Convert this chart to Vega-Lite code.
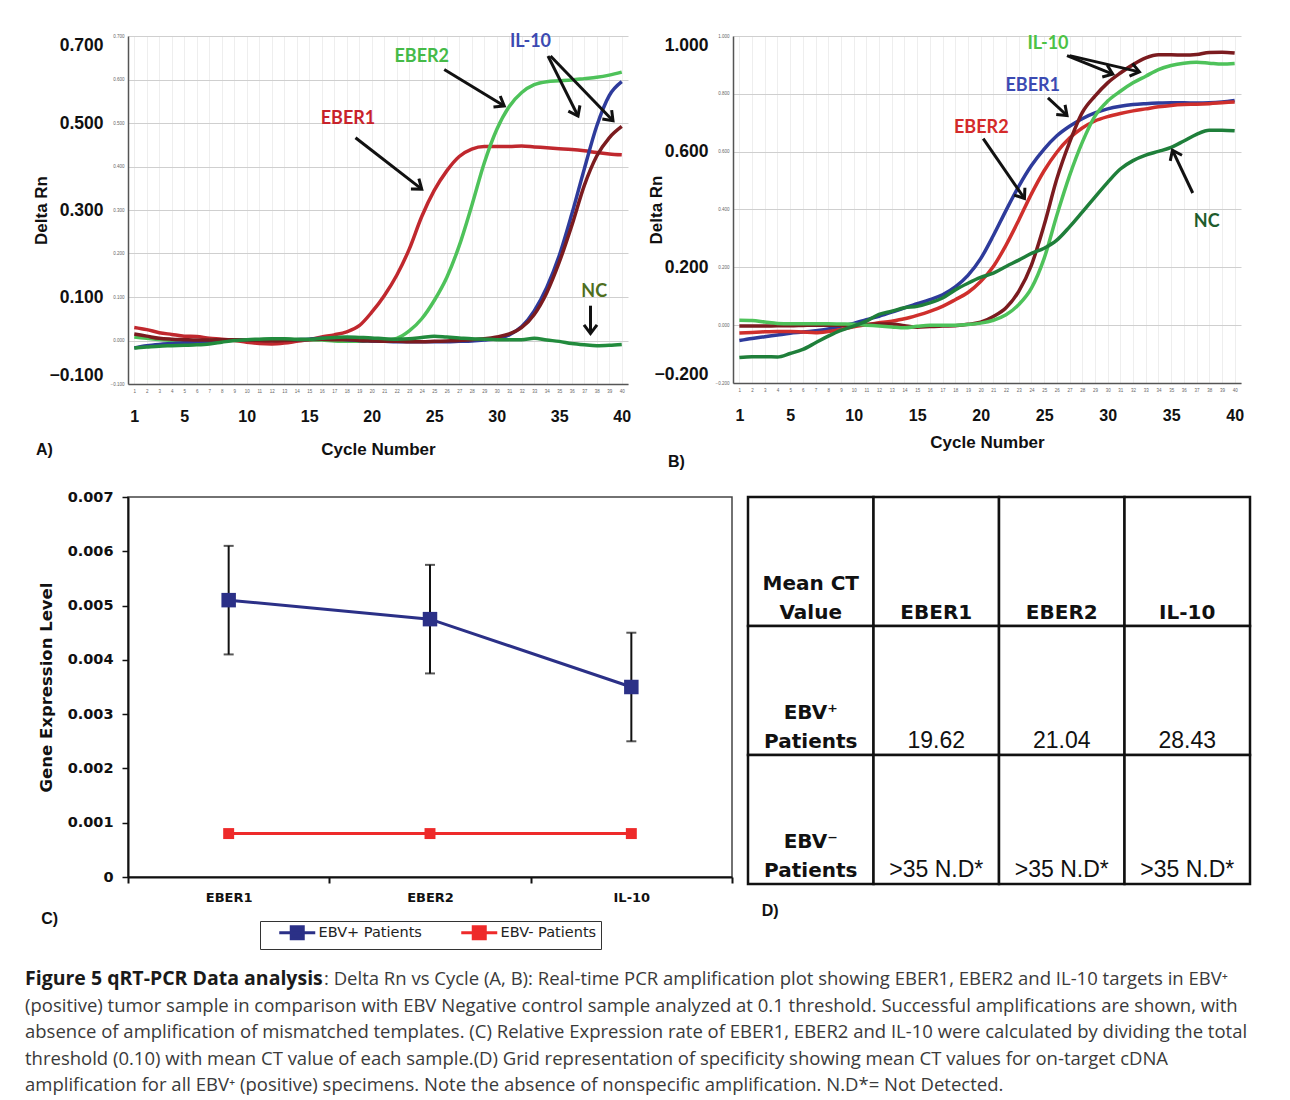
{
  "$schema": "https://vega.github.io/schema/vega-lite/v6.json",
  "background": "white",
  "padding": {"left": 25, "top": 33, "right": 5, "bottom": 5},
  "spacing": 18,
  "datasets": {
    "ampA": [
      {"c":1,"s":"EBER1","v":0.030},{"c":2,"s":"EBER1","v":0.025},{"c":3,"s":"EBER1","v":0.018},{"c":4,"s":"EBER1","v":0.014},{"c":5,"s":"EBER1","v":0.010},{"c":6,"s":"EBER1","v":0.009},{"c":7,"s":"EBER1","v":0.005},{"c":8,"s":"EBER1","v":0.003},{"c":9,"s":"EBER1","v":0.000},{"c":10,"s":"EBER1","v":-0.004},
      {"c":11,"s":"EBER1","v":-0.007},{"c":12,"s":"EBER1","v":-0.008},{"c":13,"s":"EBER1","v":-0.006},{"c":14,"s":"EBER1","v":-0.002},{"c":15,"s":"EBER1","v":0.002},{"c":16,"s":"EBER1","v":0.008},{"c":17,"s":"EBER1","v":0.013},{"c":18,"s":"EBER1","v":0.020},{"c":19,"s":"EBER1","v":0.034},{"c":20,"s":"EBER1","v":0.065},
      {"c":21,"s":"EBER1","v":0.103},{"c":22,"s":"EBER1","v":0.150},{"c":23,"s":"EBER1","v":0.210},{"c":24,"s":"EBER1","v":0.285},{"c":25,"s":"EBER1","v":0.345},{"c":26,"s":"EBER1","v":0.390},{"c":27,"s":"EBER1","v":0.423},{"c":28,"s":"EBER1","v":0.440},{"c":29,"s":"EBER1","v":0.446},{"c":30,"s":"EBER1","v":0.446},
      {"c":31,"s":"EBER1","v":0.446},{"c":32,"s":"EBER1","v":0.447},{"c":33,"s":"EBER1","v":0.445},{"c":34,"s":"EBER1","v":0.443},{"c":35,"s":"EBER1","v":0.441},{"c":36,"s":"EBER1","v":0.439},{"c":37,"s":"EBER1","v":0.436},{"c":38,"s":"EBER1","v":0.432},{"c":39,"s":"EBER1","v":0.429},{"c":40,"s":"EBER1","v":0.427},
      {"c":1,"s":"EBER2","v":0.008},{"c":2,"s":"EBER2","v":0.005},{"c":3,"s":"EBER2","v":0.002},{"c":4,"s":"EBER2","v":0.000},{"c":5,"s":"EBER2","v":-0.001},{"c":6,"s":"EBER2","v":-0.001},{"c":7,"s":"EBER2","v":0.000},{"c":8,"s":"EBER2","v":0.001},{"c":9,"s":"EBER2","v":0.002},{"c":10,"s":"EBER2","v":0.002},
      {"c":11,"s":"EBER2","v":0.002},{"c":12,"s":"EBER2","v":0.003},{"c":13,"s":"EBER2","v":0.003},{"c":14,"s":"EBER2","v":0.002},{"c":15,"s":"EBER2","v":0.002},{"c":16,"s":"EBER2","v":0.001},{"c":17,"s":"EBER2","v":-0.001},{"c":18,"s":"EBER2","v":-0.002},{"c":19,"s":"EBER2","v":-0.002},{"c":20,"s":"EBER2","v":-0.001},
      {"c":21,"s":"EBER2","v":0.000},{"c":22,"s":"EBER2","v":0.005},{"c":23,"s":"EBER2","v":0.022},{"c":24,"s":"EBER2","v":0.050},{"c":25,"s":"EBER2","v":0.092},{"c":26,"s":"EBER2","v":0.145},{"c":27,"s":"EBER2","v":0.218},{"c":28,"s":"EBER2","v":0.310},{"c":29,"s":"EBER2","v":0.408},{"c":30,"s":"EBER2","v":0.485},
      {"c":31,"s":"EBER2","v":0.538},{"c":32,"s":"EBER2","v":0.570},{"c":33,"s":"EBER2","v":0.588},{"c":34,"s":"EBER2","v":0.595},{"c":35,"s":"EBER2","v":0.597},{"c":36,"s":"EBER2","v":0.599},{"c":37,"s":"EBER2","v":0.602},{"c":38,"s":"EBER2","v":0.605},{"c":39,"s":"EBER2","v":0.610},{"c":40,"s":"EBER2","v":0.617},
      {"c":1,"s":"IL-10 a","v":-0.017},{"c":2,"s":"IL-10 a","v":-0.012},{"c":3,"s":"IL-10 a","v":-0.009},{"c":4,"s":"IL-10 a","v":-0.007},{"c":5,"s":"IL-10 a","v":-0.005},{"c":6,"s":"IL-10 a","v":-0.004},{"c":7,"s":"IL-10 a","v":-0.002},{"c":8,"s":"IL-10 a","v":0.000},{"c":9,"s":"IL-10 a","v":0.001},{"c":10,"s":"IL-10 a","v":0.001},
      {"c":11,"s":"IL-10 a","v":0.001},{"c":12,"s":"IL-10 a","v":0.001},{"c":13,"s":"IL-10 a","v":0.001},{"c":14,"s":"IL-10 a","v":0.002},{"c":15,"s":"IL-10 a","v":0.003},{"c":16,"s":"IL-10 a","v":0.005},{"c":17,"s":"IL-10 a","v":0.004},{"c":18,"s":"IL-10 a","v":0.002},{"c":19,"s":"IL-10 a","v":0.000},{"c":20,"s":"IL-10 a","v":-0.001},
      {"c":21,"s":"IL-10 a","v":-0.002},{"c":22,"s":"IL-10 a","v":-0.003},{"c":23,"s":"IL-10 a","v":-0.003},{"c":24,"s":"IL-10 a","v":-0.003},{"c":25,"s":"IL-10 a","v":-0.003},{"c":26,"s":"IL-10 a","v":-0.003},{"c":27,"s":"IL-10 a","v":-0.002},{"c":28,"s":"IL-10 a","v":-0.001},{"c":29,"s":"IL-10 a","v":0.001},{"c":30,"s":"IL-10 a","v":0.004},
      {"c":31,"s":"IL-10 a","v":0.013},{"c":32,"s":"IL-10 a","v":0.032},{"c":33,"s":"IL-10 a","v":0.068},{"c":34,"s":"IL-10 a","v":0.122},{"c":35,"s":"IL-10 a","v":0.195},{"c":36,"s":"IL-10 a","v":0.290},{"c":37,"s":"IL-10 a","v":0.394},{"c":38,"s":"IL-10 a","v":0.493},{"c":39,"s":"IL-10 a","v":0.563},{"c":40,"s":"IL-10 a","v":0.595},
      {"c":1,"s":"IL-10 b","v":0.015},{"c":2,"s":"IL-10 b","v":0.010},{"c":3,"s":"IL-10 b","v":0.005},{"c":4,"s":"IL-10 b","v":0.003},{"c":5,"s":"IL-10 b","v":0.002},{"c":6,"s":"IL-10 b","v":0.001},{"c":7,"s":"IL-10 b","v":0.001},{"c":8,"s":"IL-10 b","v":0.002},{"c":9,"s":"IL-10 b","v":0.002},{"c":10,"s":"IL-10 b","v":0.001},
      {"c":11,"s":"IL-10 b","v":0.000},{"c":12,"s":"IL-10 b","v":-0.001},{"c":13,"s":"IL-10 b","v":0.000},{"c":14,"s":"IL-10 b","v":0.001},{"c":15,"s":"IL-10 b","v":0.002},{"c":16,"s":"IL-10 b","v":0.003},{"c":17,"s":"IL-10 b","v":0.002},{"c":18,"s":"IL-10 b","v":0.002},{"c":19,"s":"IL-10 b","v":0.000},{"c":20,"s":"IL-10 b","v":-0.001},
      {"c":21,"s":"IL-10 b","v":-0.002},{"c":22,"s":"IL-10 b","v":-0.002},{"c":23,"s":"IL-10 b","v":-0.003},{"c":24,"s":"IL-10 b","v":-0.003},{"c":25,"s":"IL-10 b","v":-0.002},{"c":26,"s":"IL-10 b","v":-0.001},{"c":27,"s":"IL-10 b","v":0.000},{"c":28,"s":"IL-10 b","v":0.002},{"c":29,"s":"IL-10 b","v":0.004},{"c":30,"s":"IL-10 b","v":0.008},
      {"c":31,"s":"IL-10 b","v":0.015},{"c":32,"s":"IL-10 b","v":0.030},{"c":33,"s":"IL-10 b","v":0.060},{"c":34,"s":"IL-10 b","v":0.110},{"c":35,"s":"IL-10 b","v":0.180},{"c":36,"s":"IL-10 b","v":0.264},{"c":37,"s":"IL-10 b","v":0.356},{"c":38,"s":"IL-10 b","v":0.424},{"c":39,"s":"IL-10 b","v":0.466},{"c":40,"s":"IL-10 b","v":0.492},
      {"c":1,"s":"NC","v":-0.017},{"c":2,"s":"NC","v":-0.015},{"c":3,"s":"NC","v":-0.013},{"c":4,"s":"NC","v":-0.012},{"c":5,"s":"NC","v":-0.011},{"c":6,"s":"NC","v":-0.010},{"c":7,"s":"NC","v":-0.008},{"c":8,"s":"NC","v":-0.004},{"c":9,"s":"NC","v":0.000},{"c":10,"s":"NC","v":0.002},
      {"c":11,"s":"NC","v":0.003},{"c":12,"s":"NC","v":0.004},{"c":13,"s":"NC","v":0.004},{"c":14,"s":"NC","v":0.003},{"c":15,"s":"NC","v":0.003},{"c":16,"s":"NC","v":0.005},{"c":17,"s":"NC","v":0.007},{"c":18,"s":"NC","v":0.008},{"c":19,"s":"NC","v":0.007},{"c":20,"s":"NC","v":0.006},
      {"c":21,"s":"NC","v":0.004},{"c":22,"s":"NC","v":0.003},{"c":23,"s":"NC","v":0.004},{"c":24,"s":"NC","v":0.007},{"c":25,"s":"NC","v":0.010},{"c":26,"s":"NC","v":0.008},{"c":27,"s":"NC","v":0.006},{"c":28,"s":"NC","v":0.004},{"c":29,"s":"NC","v":0.003},{"c":30,"s":"NC","v":0.002},
      {"c":31,"s":"NC","v":0.002},{"c":32,"s":"NC","v":0.002},{"c":33,"s":"NC","v":0.005},{"c":34,"s":"NC","v":0.001},{"c":35,"s":"NC","v":-0.002},{"c":36,"s":"NC","v":-0.007},{"c":37,"s":"NC","v":-0.010},{"c":38,"s":"NC","v":-0.012},{"c":39,"s":"NC","v":-0.011},{"c":40,"s":"NC","v":-0.009}
    ],
    "ampB": [
      {"c":1,"s":"EBER1","v":-0.053},{"c":2,"s":"EBER1","v":-0.046},{"c":3,"s":"EBER1","v":-0.040},{"c":4,"s":"EBER1","v":-0.034},{"c":5,"s":"EBER1","v":-0.028},{"c":6,"s":"EBER1","v":-0.024},{"c":7,"s":"EBER1","v":-0.019},{"c":8,"s":"EBER1","v":-0.013},{"c":9,"s":"EBER1","v":-0.004},{"c":10,"s":"EBER1","v":0.006},
      {"c":11,"s":"EBER1","v":0.019},{"c":12,"s":"EBER1","v":0.031},{"c":13,"s":"EBER1","v":0.045},{"c":14,"s":"EBER1","v":0.060},{"c":15,"s":"EBER1","v":0.074},{"c":16,"s":"EBER1","v":0.088},{"c":17,"s":"EBER1","v":0.105},{"c":18,"s":"EBER1","v":0.132},{"c":19,"s":"EBER1","v":0.172},{"c":20,"s":"EBER1","v":0.230},
      {"c":21,"s":"EBER1","v":0.310},{"c":22,"s":"EBER1","v":0.397},{"c":23,"s":"EBER1","v":0.480},{"c":24,"s":"EBER1","v":0.552},{"c":25,"s":"EBER1","v":0.609},{"c":26,"s":"EBER1","v":0.655},{"c":27,"s":"EBER1","v":0.688},{"c":28,"s":"EBER1","v":0.714},{"c":29,"s":"EBER1","v":0.734},{"c":30,"s":"EBER1","v":0.748},
      {"c":31,"s":"EBER1","v":0.757},{"c":32,"s":"EBER1","v":0.763},{"c":33,"s":"EBER1","v":0.766},{"c":34,"s":"EBER1","v":0.768},{"c":35,"s":"EBER1","v":0.769},{"c":36,"s":"EBER1","v":0.769},{"c":37,"s":"EBER1","v":0.768},{"c":38,"s":"EBER1","v":0.769},{"c":39,"s":"EBER1","v":0.772},{"c":40,"s":"EBER1","v":0.777},
      {"c":1,"s":"EBER2","v":-0.027},{"c":2,"s":"EBER2","v":-0.025},{"c":3,"s":"EBER2","v":-0.023},{"c":4,"s":"EBER2","v":-0.022},{"c":5,"s":"EBER2","v":-0.022},{"c":6,"s":"EBER2","v":-0.024},{"c":7,"s":"EBER2","v":-0.026},{"c":8,"s":"EBER2","v":-0.022},{"c":9,"s":"EBER2","v":-0.015},{"c":10,"s":"EBER2","v":-0.006},
      {"c":11,"s":"EBER2","v":0.002},{"c":12,"s":"EBER2","v":0.008},{"c":13,"s":"EBER2","v":0.014},{"c":14,"s":"EBER2","v":0.022},{"c":15,"s":"EBER2","v":0.034},{"c":16,"s":"EBER2","v":0.048},{"c":17,"s":"EBER2","v":0.065},{"c":18,"s":"EBER2","v":0.088},{"c":19,"s":"EBER2","v":0.113},{"c":20,"s":"EBER2","v":0.151},
      {"c":21,"s":"EBER2","v":0.203},{"c":22,"s":"EBER2","v":0.277},{"c":23,"s":"EBER2","v":0.363},{"c":24,"s":"EBER2","v":0.454},{"c":25,"s":"EBER2","v":0.534},{"c":26,"s":"EBER2","v":0.598},{"c":27,"s":"EBER2","v":0.647},{"c":28,"s":"EBER2","v":0.682},{"c":29,"s":"EBER2","v":0.706},{"c":30,"s":"EBER2","v":0.721},
      {"c":31,"s":"EBER2","v":0.732},{"c":32,"s":"EBER2","v":0.741},{"c":33,"s":"EBER2","v":0.748},{"c":34,"s":"EBER2","v":0.755},{"c":35,"s":"EBER2","v":0.760},{"c":36,"s":"EBER2","v":0.763},{"c":37,"s":"EBER2","v":0.764},{"c":38,"s":"EBER2","v":0.766},{"c":39,"s":"EBER2","v":0.769},{"c":40,"s":"EBER2","v":0.772},
      {"c":1,"s":"IL-10 a","v":-0.003},{"c":2,"s":"IL-10 a","v":-0.003},{"c":3,"s":"IL-10 a","v":-0.003},{"c":4,"s":"IL-10 a","v":-0.002},{"c":5,"s":"IL-10 a","v":-0.002},{"c":6,"s":"IL-10 a","v":-0.001},{"c":7,"s":"IL-10 a","v":0.000},{"c":8,"s":"IL-10 a","v":0.000},{"c":9,"s":"IL-10 a","v":0.000},{"c":10,"s":"IL-10 a","v":0.001},
      {"c":11,"s":"IL-10 a","v":0.002},{"c":12,"s":"IL-10 a","v":0.004},{"c":13,"s":"IL-10 a","v":0.004},{"c":14,"s":"IL-10 a","v":-0.002},{"c":15,"s":"IL-10 a","v":-0.007},{"c":16,"s":"IL-10 a","v":-0.005},{"c":17,"s":"IL-10 a","v":-0.003},{"c":18,"s":"IL-10 a","v":-0.002},{"c":19,"s":"IL-10 a","v":0.003},{"c":20,"s":"IL-10 a","v":0.010},
      {"c":21,"s":"IL-10 a","v":0.030},{"c":22,"s":"IL-10 a","v":0.060},{"c":23,"s":"IL-10 a","v":0.117},{"c":24,"s":"IL-10 a","v":0.208},{"c":25,"s":"IL-10 a","v":0.346},{"c":26,"s":"IL-10 a","v":0.506},{"c":27,"s":"IL-10 a","v":0.632},{"c":28,"s":"IL-10 a","v":0.735},{"c":29,"s":"IL-10 a","v":0.792},{"c":30,"s":"IL-10 a","v":0.838},
      {"c":31,"s":"IL-10 a","v":0.872},{"c":32,"s":"IL-10 a","v":0.901},{"c":33,"s":"IL-10 a","v":0.924},{"c":34,"s":"IL-10 a","v":0.935},{"c":35,"s":"IL-10 a","v":0.935},{"c":36,"s":"IL-10 a","v":0.934},{"c":37,"s":"IL-10 a","v":0.936},{"c":38,"s":"IL-10 a","v":0.943},{"c":39,"s":"IL-10 a","v":0.944},{"c":40,"s":"IL-10 a","v":0.941},
      {"c":1,"s":"IL-10 b","v":0.017},{"c":2,"s":"IL-10 b","v":0.016},{"c":3,"s":"IL-10 b","v":0.011},{"c":4,"s":"IL-10 b","v":0.006},{"c":5,"s":"IL-10 b","v":0.005},{"c":6,"s":"IL-10 b","v":0.005},{"c":7,"s":"IL-10 b","v":0.005},{"c":8,"s":"IL-10 b","v":0.005},{"c":9,"s":"IL-10 b","v":0.004},{"c":10,"s":"IL-10 b","v":0.003},
      {"c":11,"s":"IL-10 b","v":0.000},{"c":12,"s":"IL-10 b","v":-0.003},{"c":13,"s":"IL-10 b","v":-0.006},{"c":14,"s":"IL-10 b","v":-0.009},{"c":15,"s":"IL-10 b","v":-0.004},{"c":16,"s":"IL-10 b","v":0.000},{"c":17,"s":"IL-10 b","v":0.000},{"c":18,"s":"IL-10 b","v":0.000},{"c":19,"s":"IL-10 b","v":0.002},{"c":20,"s":"IL-10 b","v":0.007},
      {"c":21,"s":"IL-10 b","v":0.017},{"c":22,"s":"IL-10 b","v":0.036},{"c":23,"s":"IL-10 b","v":0.071},{"c":24,"s":"IL-10 b","v":0.128},{"c":25,"s":"IL-10 b","v":0.231},{"c":26,"s":"IL-10 b","v":0.380},{"c":27,"s":"IL-10 b","v":0.517},{"c":28,"s":"IL-10 b","v":0.632},{"c":29,"s":"IL-10 b","v":0.723},{"c":30,"s":"IL-10 b","v":0.775},
      {"c":31,"s":"IL-10 b","v":0.809},{"c":32,"s":"IL-10 b","v":0.838},{"c":33,"s":"IL-10 b","v":0.861},{"c":34,"s":"IL-10 b","v":0.884},{"c":35,"s":"IL-10 b","v":0.898},{"c":36,"s":"IL-10 b","v":0.906},{"c":37,"s":"IL-10 b","v":0.909},{"c":38,"s":"IL-10 b","v":0.906},{"c":39,"s":"IL-10 b","v":0.903},{"c":40,"s":"IL-10 b","v":0.905},
      {"c":1,"s":"NC","v":-0.112},{"c":2,"s":"NC","v":-0.109},{"c":3,"s":"NC","v":-0.109},{"c":4,"s":"NC","v":-0.110},{"c":5,"s":"NC","v":-0.098},{"c":6,"s":"NC","v":-0.084},{"c":7,"s":"NC","v":-0.061},{"c":8,"s":"NC","v":-0.038},{"c":9,"s":"NC","v":-0.018},{"c":10,"s":"NC","v":-0.003},
      {"c":11,"s":"NC","v":0.014},{"c":12,"s":"NC","v":0.037},{"c":13,"s":"NC","v":0.048},{"c":14,"s":"NC","v":0.060},{"c":15,"s":"NC","v":0.065},{"c":16,"s":"NC","v":0.077},{"c":17,"s":"NC","v":0.094},{"c":18,"s":"NC","v":0.122},{"c":19,"s":"NC","v":0.145},{"c":20,"s":"NC","v":0.165},
      {"c":21,"s":"NC","v":0.180},{"c":22,"s":"NC","v":0.203},{"c":23,"s":"NC","v":0.225},{"c":24,"s":"NC","v":0.248},{"c":25,"s":"NC","v":0.266},{"c":26,"s":"NC","v":0.294},{"c":27,"s":"NC","v":0.340},{"c":28,"s":"NC","v":0.391},{"c":29,"s":"NC","v":0.443},{"c":30,"s":"NC","v":0.494},
      {"c":31,"s":"NC","v":0.540},{"c":32,"s":"NC","v":0.569},{"c":33,"s":"NC","v":0.588},{"c":34,"s":"NC","v":0.601},{"c":35,"s":"NC","v":0.615},{"c":36,"s":"NC","v":0.637},{"c":37,"s":"NC","v":0.660},{"c":38,"s":"NC","v":0.674},{"c":39,"s":"NC","v":0.674},{"c":40,"s":"NC","v":0.672}
    ],
    "labelA": [
      {"label":"EBER2","c":24.0,"v":0.652},
      {"label":"IL-10","c":32.7,"v":0.686},
      {"label":"EBER1","c":18.1,"v":0.510},
      {"label":"NC","c":37.8,"v":0.112}
    ],
    "arrowA": [
      {"label":"EBER2","x1":25.8,"y1":0.623,"x2":30.6,"y2":0.539},
      {"label":"IL-10","x1":34.1,"y1":0.654,"x2":36.5,"y2":0.516},
      {"label":"IL-10","x1":34.3,"y1":0.654,"x2":39.3,"y2":0.505},
      {"label":"EBER1","x1":18.7,"y1":0.466,"x2":24.0,"y2":0.348},
      {"label":"NC","x1":37.5,"y1":0.080,"x2":37.5,"y2":0.016}
    ],
    "labelB": [
      {"label":"IL-10","c":25.3,"v":0.972},
      {"label":"EBER1","c":24.1,"v":0.827},
      {"label":"EBER2","c":20.05,"v":0.682},
      {"label":"NC","c":37.8,"v":0.356}
    ],
    "arrowB": [
      {"label":"IL-10","x1":26.8,"y1":0.932,"x2":30.4,"y2":0.868},
      {"label":"IL-10","x1":27.0,"y1":0.932,"x2":32.5,"y2":0.876},
      {"label":"EBER1","x1":25.3,"y1":0.786,"x2":26.8,"y2":0.725},
      {"label":"EBER2","x1":20.2,"y1":0.645,"x2":23.45,"y2":0.438},
      {"label":"NC","x1":36.7,"y1":0.457,"x2":35.1,"y2":0.605}
    ],
    "expr": [
      {"gene":"EBER1","group":"EBV+ Patients","level":0.0051,"lo":0.0041,"hi":0.0061},
      {"gene":"EBER2","group":"EBV+ Patients","level":0.00475,"lo":0.00375,"hi":0.00575},
      {"gene":"IL-10","group":"EBV+ Patients","level":0.0035,"lo":0.0025,"hi":0.0045},
      {"gene":"EBER1","group":"EBV- Patients","level":0.0008},
      {"gene":"EBER2","group":"EBV- Patients","level":0.0008},
      {"gene":"IL-10","group":"EBV- Patients","level":0.0008}
    ],
    "ct": [
      {"target":"label","group":"header","text":"Mean CT\nValue","kind":"head"},
      {"target":"EBER1","group":"header","text":"EBER1","kind":"head"},
      {"target":"EBER2","group":"header","text":"EBER2","kind":"head"},
      {"target":"IL-10","group":"header","text":"IL-10","kind":"head"},
      {"target":"label","group":"EBV+","text":"EBV⁺\nPatients","kind":"head"},
      {"target":"EBER1","group":"EBV+","text":"19.62","kind":"value"},
      {"target":"EBER2","group":"EBV+","text":"21.04","kind":"value"},
      {"target":"IL-10","group":"EBV+","text":"28.43","kind":"value"},
      {"target":"label","group":"EBV-","text":"EBV⁻\nPatients","kind":"head"},
      {"target":"EBER1","group":"EBV-","text":">35 N.D*","kind":"value"},
      {"target":"EBER2","group":"EBV-","text":">35 N.D*","kind":"value"},
      {"target":"IL-10","group":"EBV-","text":">35 N.D*","kind":"value"}
    ],
    "caption": [
      {"line":1,"part":"bold","text":"Figure 5 qRT-PCR Data analysis"},
      {"line":1,"part":"lead","text":": Delta Rn vs Cycle (A, B): Real-time PCR amplification plot showing EBER1, EBER2 and IL-10 targets in EBV⁺"},
      {"line":2,"part":"body","text":"(positive) tumor sample in comparison with EBV Negative control sample analyzed at 0.1 threshold. Successful amplifications are shown, with"},
      {"line":3,"part":"body","text":"absence of amplification of mismatched templates. (C) Relative Expression rate of EBER1, EBER2 and IL-10 were calculated by dividing the total"},
      {"line":4,"part":"body","text":"threshold (0.10) with mean CT value of each sample.(D) Grid representation of specificity showing mean CT values for on-target cDNA"},
      {"line":5,"part":"body","text":"amplification for all EBV⁺ (positive) specimens. Note the absence of nonspecific amplification. N.D*= Not Detected."}
    ]
  },
  "vconcat": [
    {
      "hconcat": [
        {
          "width": 500,
          "height": 348,
          "view": {"stroke": null},
          "title": {"text": "A)", "orient": "bottom", "anchor": "start", "frame": "bounds", "offset": -15, "dx": 3},
          "layer": [
            {
              "data": {"name": "ampA"},
              "mark": {"type": "line", "strokeWidth": 3.5, "interpolate": "monotone"},
              "encoding": {
                "x": {"field": "c", "type": "quantitative", "scale": {"domain": [0.5, 40.5], "nice": false, "zero": false},
                  "axis": {"orient": "bottom", "values": [1,2,3,4,5,6,7,8,9,10,11,12,13,14,15,16,17,18,19,20,21,22,23,24,25,26,27,28,29,30,31,32,33,34,35,36,37,38,39,40], "labelFontSize": 4.5, "labelColor": "#666", "ticks": false, "labelPadding": 4, "domainColor": "#555", "domainWidth": 1.5, "grid": true, "gridColor": "#eeeeee", "title": null, "labelFlush": false}},
                "y": {"field": "v", "type": "quantitative", "scale": {"domain": [-0.1, 0.7], "nice": false, "zero": false},
                  "axis": {"orient": "left", "values": [-0.1, 0, 0.1, 0.2, 0.3, 0.4, 0.5, 0.6, 0.7], "format": ".3f", "labelFontSize": 4.5, "labelColor": "#666", "ticks": false, "labelPadding": 4, "domainColor": "#555", "domainWidth": 1.5, "grid": true, "gridColor": "#cfcfcf", "title": null, "labelFlush": false}},
                "color": {"field": "s", "type": "nominal", "legend": null,
                  "scale": {"domain": ["EBER1", "EBER2", "IL-10 a", "IL-10 b", "NC"], "range": ["#c0282e", "#4ec25a", "#2e3b9b", "#7b1b1f", "#228b3d"]}}
              }
            },
            {
              "data": {"name": "arrowA"},
              "mark": {"type": "rule", "strokeWidth": 3, "color": "#111111"},
              "encoding": {
                "x": {"field": "x1", "type": "quantitative",
                  "axis": {"orient": "bottom", "offset": 20, "values": [1,5,10,15,20,25,30,35,40], "labelFontSize": 16, "labelFontWeight": "bold", "labelColor": "#111", "ticks": false, "domain": false, "grid": false, "labelPadding": 4, "labelFlush": false, "title": "Cycle Number", "titleFontSize": 17, "titleFontWeight": "bold", "titleColor": "#111", "titlePadding": 17}},
                "y": {"field": "y1", "type": "quantitative",
                  "axis": {"orient": "left", "offset": 20, "values": [-0.1, 0.1, 0.3, 0.5, 0.7], "format": ".3f", "labelFlush": true, "labelFontSize": 17.5, "labelFontWeight": "bold", "labelColor": "#111", "ticks": false, "domain": false, "grid": false, "labelPadding": 5, "title": "Delta Rn", "titleFontSize": 17, "titleFontWeight": "bold", "titleColor": "#111", "titlePadding": -2}},
                "x2": {"field": "x2"},
                "y2": {"field": "y2"}
              }
            },
            {
              "data": {"name": "arrowA"},
              "transform": [{"calculate": "atan2((datum.x2 - datum.x1) * 12.5, (datum.y2 - datum.y1) * 435) * 180 / PI", "as": "ang"}],
              "mark": {"type": "point", "shape": "M-0.75,1L0,0L0.75,1", "filled": false, "strokeWidth": 3, "size": 300, "color": "#111111", "opacity": 1},
              "encoding": {
                "x": {"field": "x2", "type": "quantitative", "axis": null},
                "y": {"field": "y2", "type": "quantitative", "axis": null},
                "angle": {"field": "ang", "type": "quantitative", "scale": null}
              }
            },
            {
              "data": {"name": "labelA"},
              "mark": {"type": "text", "font": "Lato", "fontWeight": "bold", "fontSize": 18},
              "encoding": {
                "x": {"field": "c", "type": "quantitative", "axis": null},
                "y": {"field": "v", "type": "quantitative", "axis": null},
                "text": {"field": "label"},
                "fill": {"field": "label", "type": "nominal", "legend": null,
                  "scale": {"domain": ["EBER1", "EBER2", "IL-10", "NC"], "range": ["#c8222a", "#45ba48", "#3b4ab2", "#4e6e1e"]}}
              }
            }
          ],
          "resolve": {"axis": {"x": "independent", "y": "independent"}}
        },
        {
          "width": 508,
          "height": 347,
          "view": {"stroke": null},
          "title": {"text": "B)", "orient": "bottom", "anchor": "start", "frame": "bounds", "offset": 4, "dx": 20},
          "layer": [
            {
              "data": {"name": "ampB"},
              "mark": {"type": "line", "strokeWidth": 3.5, "interpolate": "monotone"},
              "encoding": {
                "x": {"field": "c", "type": "quantitative", "scale": {"domain": [0.5, 40.5], "nice": false, "zero": false},
                  "axis": {"orient": "bottom", "values": [1,2,3,4,5,6,7,8,9,10,11,12,13,14,15,16,17,18,19,20,21,22,23,24,25,26,27,28,29,30,31,32,33,34,35,36,37,38,39,40], "labelFontSize": 4.5, "labelColor": "#666", "ticks": false, "labelPadding": 4, "domainColor": "#555", "domainWidth": 1.5, "grid": true, "gridColor": "#eeeeee", "title": null, "labelFlush": false}},
                "y": {"field": "v", "type": "quantitative", "scale": {"domain": [-0.2, 1.0], "nice": false, "zero": false},
                  "axis": {"orient": "left", "values": [-0.2, 0, 0.2, 0.4, 0.6, 0.8, 1.0], "format": ".3f", "labelFontSize": 4.5, "labelColor": "#666", "ticks": false, "labelPadding": 4, "domainColor": "#555", "domainWidth": 1.5, "grid": true, "gridColor": "#cfcfcf", "title": null, "labelFlush": false}},
                "color": {"field": "s", "type": "nominal", "legend": null,
                  "scale": {"domain": ["EBER1", "EBER2", "IL-10 a", "IL-10 b", "NC"], "range": ["#2e3b9b", "#cf2f2c", "#7b1b1f", "#4ec25a", "#1f7f3a"]}}
              }
            },
            {
              "mark": {"type": "rule", "color": "#a6c9a2", "strokeWidth": 1.2},
              "encoding": {"y": {"datum": 0.1, "type": "quantitative", "axis": null}}
            },
            {
              "data": {"name": "arrowB"},
              "mark": {"type": "rule", "strokeWidth": 3, "color": "#111111"},
              "encoding": {
                "x": {"field": "x1", "type": "quantitative",
                  "axis": {"orient": "bottom", "offset": 20, "values": [1,5,10,15,20,25,30,35,40], "labelFontSize": 16, "labelFontWeight": "bold", "labelColor": "#111", "ticks": false, "domain": false, "grid": false, "labelPadding": 4, "labelFlush": false, "title": "Cycle Number", "titleFontSize": 17, "titleFontWeight": "bold", "titleColor": "#111", "titlePadding": 11}},
                "y": {"field": "y1", "type": "quantitative",
                  "axis": {"orient": "left", "offset": 20, "values": [-0.2, 0.2, 0.6, 1.0], "format": ".3f", "labelFlush": true, "labelFontSize": 17.5, "labelFontWeight": "bold", "labelColor": "#111", "ticks": false, "domain": false, "grid": false, "labelPadding": 5, "title": "Delta Rn", "titleFontSize": 17, "titleFontWeight": "bold", "titleColor": "#111", "titlePadding": -12}},
                "x2": {"field": "x2"},
                "y2": {"field": "y2"}
              }
            },
            {
              "data": {"name": "arrowB"},
              "transform": [{"calculate": "atan2((datum.x2 - datum.x1) * 12.7, (datum.y2 - datum.y1) * 289) * 180 / PI", "as": "ang"}],
              "mark": {"type": "point", "shape": "M-0.75,1L0,0L0.75,1", "filled": false, "strokeWidth": 3, "size": 300, "color": "#111111", "opacity": 1},
              "encoding": {
                "x": {"field": "x2", "type": "quantitative", "axis": null},
                "y": {"field": "y2", "type": "quantitative", "axis": null},
                "angle": {"field": "ang", "type": "quantitative", "scale": null}
              }
            },
            {
              "data": {"name": "labelB"},
              "mark": {"type": "text", "font": "Lato", "fontWeight": "bold", "fontSize": 18},
              "encoding": {
                "x": {"field": "c", "type": "quantitative", "axis": null},
                "y": {"field": "v", "type": "quantitative", "axis": null},
                "text": {"field": "label"},
                "fill": {"field": "label", "type": "nominal", "legend": null,
                  "scale": {"domain": ["EBER1", "EBER2", "IL-10", "NC"], "range": ["#3b4ab2", "#d42a2a", "#4cc245", "#1e5c2c"]}}
              }
            }
          ],
          "resolve": {"axis": {"x": "independent", "y": "independent"}}
        }
      ],
      "spacing": 16,
      "resolve": {"scale": {"color": "independent", "fill": "independent", "angle": "independent"}}
    },
    {
      "hconcat": [
        {
          "width": 604,
          "height": 380,
          "view": {"stroke": "#444444", "strokeWidth": 1.5},
          "title": {"text": "C)", "orient": "bottom", "anchor": "start", "frame": "bounds", "offset": -39, "dx": 3},
          "data": {"name": "expr"},
          "layer": [
            {
              "transform": [{"filter": "isValid(datum.lo)"}],
              "mark": {"type": "rule", "color": "#111111", "strokeWidth": 2},
              "encoding": {
                "x": {"field": "gene", "type": "nominal", "sort": ["EBER1", "EBER2", "IL-10"], "scale": {"paddingInner": 0, "paddingOuter": 0},
                  "axis": {"tickBand": "extent", "tickSize": 6, "tickWidth": 2, "tickColor": "#111", "domainColor": "#111", "domainWidth": 2, "labelAngle": 0, "labelFont": "DejaVu Sans", "labelFontSize": 13, "labelFontWeight": "bold", "labelColor": "#111", "labelPadding": 8, "title": null, "grid": false}},
                "y": {"field": "lo", "type": "quantitative", "scale": {"domain": [0, 0.007], "nice": false},
                  "axis": {"values": [0, 0.001, 0.002, 0.003, 0.004, 0.005, 0.006, 0.007], "labelExpr": "datum.value == 0 ? '0' : format(datum.value, '.3f')", "labelFont": "DejaVu Sans", "labelFontSize": 14.5, "labelFontWeight": "bold", "labelColor": "#111", "tickSize": 6, "tickWidth": 1.5, "tickColor": "#111", "domainColor": "#111", "domainWidth": 2, "grid": false, "labelPadding": 9, "title": "Gene Expression Level", "titleFont": "DejaVu Sans", "titleFontSize": 16.5, "titleFontWeight": "bold", "titleColor": "#111", "titlePadding": 13}},
                "y2": {"field": "hi"}
              }
            },
            {
              "transform": [{"filter": "isValid(datum.lo)"}],
              "mark": {"type": "tick", "color": "#111111", "thickness": 2, "size": 10},
              "encoding": {
                "x": {"field": "gene", "type": "nominal", "sort": ["EBER1", "EBER2", "IL-10"]},
                "y": {"field": "lo", "type": "quantitative"}
              }
            },
            {
              "transform": [{"filter": "isValid(datum.hi)"}],
              "mark": {"type": "tick", "color": "#111111", "thickness": 2, "size": 10},
              "encoding": {
                "x": {"field": "gene", "type": "nominal", "sort": ["EBER1", "EBER2", "IL-10"]},
                "y": {"field": "hi", "type": "quantitative"}
              }
            },
            {
              "mark": {"type": "line", "strokeWidth": 3},
              "encoding": {
                "x": {"field": "gene", "type": "nominal", "sort": ["EBER1", "EBER2", "IL-10"]},
                "y": {"field": "level", "type": "quantitative"},
                "color": {"field": "group", "type": "nominal",
                  "scale": {"domain": ["EBV+ Patients", "EBV- Patients"], "range": ["#2b3087", "#ee2a2a"]},
                  "legend": {"orient": "none", "legendX": 132, "legendY": 424, "direction": "horizontal", "title": null, "strokeColor": "#333333", "padding": 4, "symbolType": "M-3.6,0H3.6M-1.2,-1.2H1.2V1.2H-1.2Z", "symbolSize": 100, "symbolStrokeWidth": 3, "symbolOffset": 26, "labelOffset": 14, "labelFont": "DejaVu Sans", "labelFontSize": 14.5, "labelColor": "#222", "columnPadding": 24}}
              }
            },
            {
              "transform": [{"filter": "datum.group == 'EBV+ Patients'"}],
              "mark": {"type": "point", "shape": "square", "filled": true, "opacity": 1, "size": 210},
              "encoding": {
                "x": {"field": "gene", "type": "nominal", "sort": ["EBER1", "EBER2", "IL-10"]},
                "y": {"field": "level", "type": "quantitative"},
                "color": {"field": "group", "type": "nominal"}
              }
            },
            {
              "transform": [{"filter": "datum.group == 'EBV- Patients'"}],
              "mark": {"type": "point", "shape": "square", "filled": true, "opacity": 1, "size": 120},
              "encoding": {
                "x": {"field": "gene", "type": "nominal", "sort": ["EBER1", "EBER2", "IL-10"]},
                "y": {"field": "level", "type": "quantitative"},
                "color": {"field": "group", "type": "nominal"}
              }
            }
          ]
        },
        {
          "width": 502,
          "height": 387,
          "view": {"stroke": null},
          "title": {"text": "D)", "orient": "bottom", "anchor": "start", "frame": "bounds", "offset": 18, "dx": 15},
          "data": {"name": "ct"},
          "encoding": {
            "x": {"field": "target", "type": "nominal", "sort": ["label", "EBER1", "EBER2", "IL-10"], "scale": {"paddingInner": 0, "paddingOuter": 0}, "axis": null},
            "y": {"field": "group", "type": "nominal", "sort": ["header", "EBV+", "EBV-"], "scale": {"paddingInner": 0, "paddingOuter": 0}, "axis": null}
          },
          "layer": [
            {
              "mark": {"type": "rect", "fill": "white", "stroke": "#111111", "strokeWidth": 2.5}
            },
            {
              "transform": [{"filter": "datum.kind == 'head' && datum.target != 'label'"}],
              "mark": {"type": "text", "font": "DejaVu Sans", "fontWeight": "bold", "fontSize": 20, "baseline": "bottom", "dy": -3, "color": "#111111"},
              "encoding": {
                "y": {"field": "group", "type": "nominal", "sort": ["header", "EBV+", "EBV-"], "bandPosition": 1},
                "text": {"field": "text"}
              }
            },
            {
              "transform": [{"filter": "datum.kind == 'head' && datum.target == 'label'"}],
              "mark": {"type": "text", "font": "DejaVu Sans", "fontWeight": "bold", "fontSize": 20, "baseline": "bottom", "dy": -32, "lineBreak": "\n", "lineHeight": 29, "color": "#111111"},
              "encoding": {
                "y": {"field": "group", "type": "nominal", "sort": ["header", "EBV+", "EBV-"], "bandPosition": 1},
                "text": {"field": "text"}
              }
            },
            {
              "transform": [{"filter": "datum.kind == 'value'"}],
              "mark": {"type": "text", "font": "Liberation Sans", "fontSize": 23, "baseline": "bottom", "dy": -2, "color": "#111111"},
              "encoding": {
                "y": {"field": "group", "type": "nominal", "sort": ["header", "EBV+", "EBV-"], "bandPosition": 1},
                "text": {"field": "text"}
              }
            }
          ]
        }
      ],
      "spacing": 12,
      "resolve": {"scale": {"color": "independent", "fill": "independent"}}
    },
    {
      "width": 1140,
      "height": 106,
      "view": {"stroke": null},
      "data": {"name": "caption"},
      "encoding": {
        "y": {"field": "line", "type": "ordinal", "axis": null, "scale": {"type": "point", "padding": 0}}
      },
      "layer": [
        {
          "transform": [{"filter": "datum.part == 'bold'"}],
          "mark": {"type": "text", "align": "left", "baseline": "top", "font": "Open Sans", "fontWeight": "bold", "fontSize": 19.5, "color": "#1a1a1a", "dx": -103},
          "encoding": {"x": {"value": 0}, "text": {"field": "text"}}
        },
        {
          "transform": [{"filter": "datum.part == 'lead'"}],
          "mark": {"type": "text", "align": "left", "baseline": "top", "font": "Open Sans", "fontSize": 18.5, "color": "#3a3a3a", "dx": 196},
          "encoding": {"x": {"value": 0}, "text": {"field": "text"}}
        },
        {
          "transform": [{"filter": "datum.part == 'body'"}],
          "mark": {"type": "text", "align": "left", "baseline": "top", "font": "Open Sans", "fontSize": 18.5, "color": "#3a3a3a", "dx": -103},
          "encoding": {"x": {"value": 0}, "text": {"field": "text"}}
        }
      ]
    }
  ],
  "resolve": {"scale": {"color": "independent", "fill": "independent", "angle": "independent"}},
  "config": {
    "font": "Liberation Sans",
    "view": {"stroke": null},
    "axis": {"labelOverlap": false, "labelFont": "Liberation Sans", "titleFont": "Liberation Sans"},
    "title": {"font": "Liberation Sans", "fontSize": 16, "fontWeight": "bold", "color": "#111111"}
  }
}
